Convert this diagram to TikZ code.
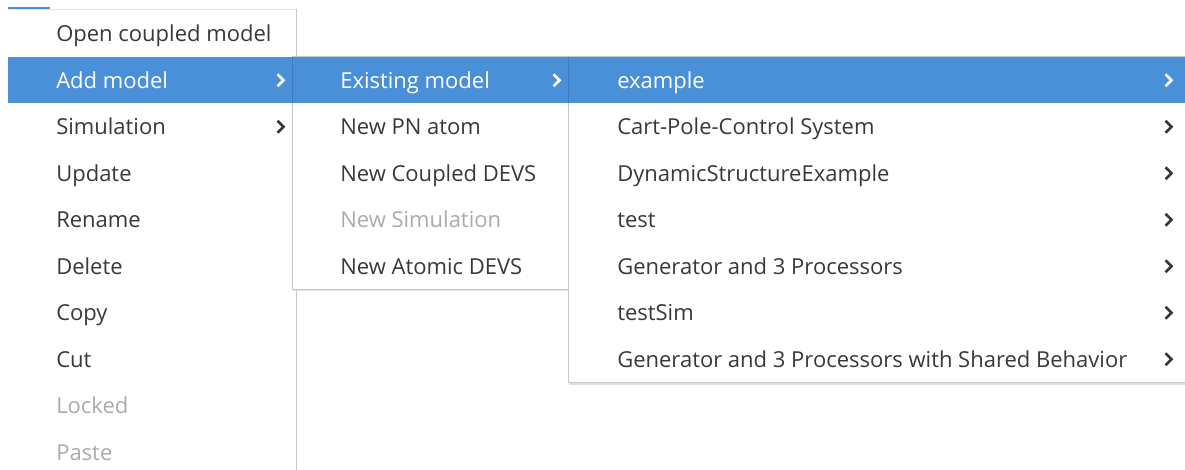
\documentclass[tikz,border=0pt]{standalone}
\usepackage{fontspec}
\setmainfont{Open Sans}
\definecolor{selblue}{HTML}{4A90D9}
\definecolor{seledge}{HTML}{3A7BC4}
\definecolor{itemtext}{HTML}{363A3C}
\definecolor{greytext}{HTML}{AAACAA}
\definecolor{menuedge}{HTML}{C8C8C8}
\tikzset{
  item/.style={anchor=base west,inner sep=0.75pt,text=itemtext,font=\fontsize{16.5}{19}\selectfont},
  selitem/.style={item,text=white},
  offitem/.style={item,text=greytext},
  menubox/.style={fill=white,draw=menuedge,line width=0.75pt},
  chev/.style={line width=1.9pt,itemtext},
  selchev/.style={chev,white}
}
\begin{document}
\begin{tikzpicture}[x=0.75pt,y=0.75pt,yscale=-1,xscale=1]
    \useasboundingbox (0,0) rectangle (1185,470);
    \fill[white] (0,0) rectangle (1185,470);
    % top strip left over from the window below
    \fill[selblue] (8,7) rectangle (50,9);
    %Menu 1
    \fill[white] (8,9.5) rectangle (296,480);
    \draw[menuedge!50,line width=0.75pt] (8,9.5) -- (296,9.5);
    \draw[menuedge,line width=0.75pt] (296,9.5) -- (296,480);
    \fill[selblue] (8,57) rectangle (296,103.5);
    % Text Node
    \node[item] (open) at (55,41.75) {Open coupled model};
    \node[selitem] (add) at (55,88.25) {Add model};
    \node[item] (sim) at (55,134.75) {Simulation};
    \node[item] (update) at (55,181.25) {Update};
    \node[item] (rename) at (55,227.75) {Rename};
    \node[item] (delete) at (55,274.25) {Delete};
    \node[item] (copy) at (55,320.75) {Copy};
    \node[item] (cut) at (55,367.25) {Cut};
    \node[offitem] (locked) at (55,413.75) {Locked};
    \node[offitem] (paste) at (55,460.25) {Paste};
    \draw[selchev] (277.5,74.25) -- (283.5,80.25) -- (277.5,86.25);
    \draw[chev] (277.5,120.75) -- (283.5,126.75) -- (277.5,132.75);
    %Menu 2
    \fill[black!12] (293,289.5) rectangle (569,291.5);
    \draw[menubox] (292,57) rectangle (568,289.5);
    \fill[selblue] (292,57) rectangle (568,103.5);
    \draw[seledge,line width=0.75pt] (292,57) -- (292,103.5);
    % Text Node
    \node[selitem] (exist) at (339,88.25) {Existing model};
    \node[item] (pnatom) at (339,134.75) {New PN atom};
    \node[item] (newcoupled) at (339,181.25) {New Coupled DEVS};
    \node[offitem] (newsim) at (339,227.75) {New Simulation};
    \node[item] (newatomic) at (339,274.25) {New Atomic DEVS};
    \draw[selchev] (553.5,74.25) -- (559.5,80.25) -- (553.5,86.25);
    %Menu 3
    \fill[black!12] (569,382.5) rectangle (1190,384.5);
    \draw[menubox] (568,57) rectangle (1190,382.5);
    \fill[selblue] (568,57) rectangle (1190,103.5);
    \draw[seledge,line width=0.75pt] (568,57) -- (568,103.5);
    % Text Node
    \node[selitem] (example) at (616,88.25) {example};
    \node[item] (cartpole) at (616,134.75) {Cart-Pole-Control System};
    \node[item] (dynstruct) at (616,181.25) {DynamicStructureExample};
    \node[item] (test) at (616,227.75) {test};
    \node[item] (gen) at (616,274.25) {Generator and 3 Processors};
    \node[item] (testsim) at (616,320.75) {testSim};
    \node[item] (genshared) at (616,367.25) {Generator and 3 Processors with Shared Behavior};
    \draw[selchev] (1165.5,74.25) -- (1171.5,80.25) -- (1165.5,86.25);
    \draw[chev] (1165.5,120.75) -- (1171.5,126.75) -- (1165.5,132.75);
    \draw[chev] (1165.5,167.25) -- (1171.5,173.25) -- (1165.5,179.25);
    \draw[chev] (1165.5,213.75) -- (1171.5,219.75) -- (1165.5,225.75);
    \draw[chev] (1165.5,260.25) -- (1171.5,266.25) -- (1165.5,272.25);
    \draw[chev] (1165.5,306.75) -- (1171.5,312.75) -- (1165.5,318.75);
    \draw[chev] (1165.5,353.25) -- (1171.5,359.25) -- (1165.5,365.25);
\end{tikzpicture}
\end{document}
